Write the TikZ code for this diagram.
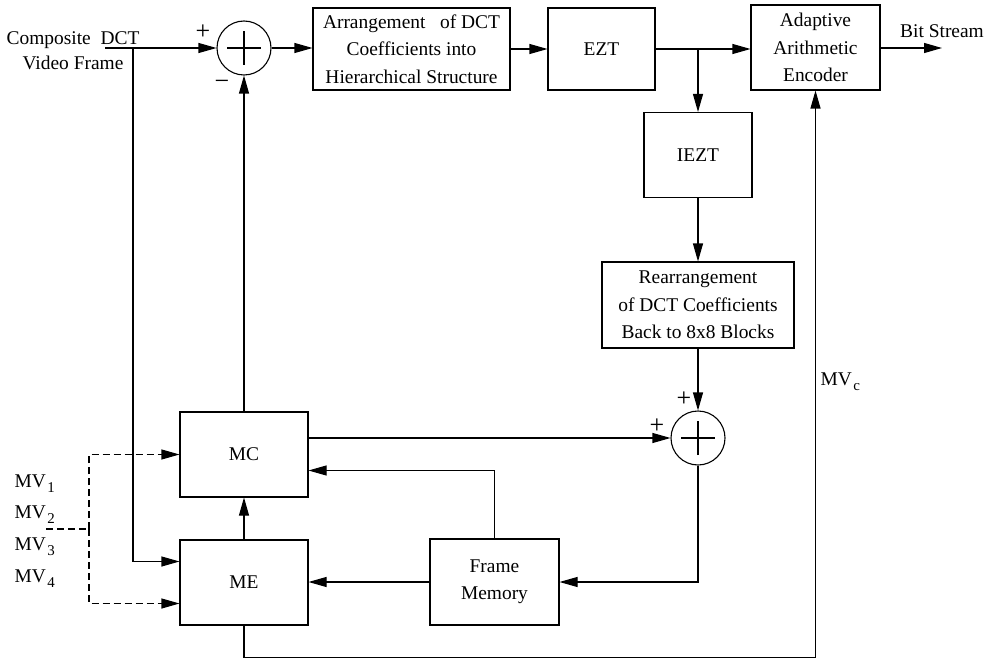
\documentclass[tikz,border=0pt]{standalone}
\usepackage{fontspec}
\setmainfont{Liberation Serif}
\usetikzlibrary{positioning,arrows.meta,calc}

\newcommand{\lowidx}[1]{\kern1.5bp\raisebox{-5bp}{\fontsize{15}{15}\selectfont #1}}

\begin{document}
\begin{tikzpicture}[x=1bp,y=-1bp,line width=1.1bp,
  >={Triangle[length=18bp,width=10bp]},
  blk/.style={draw,align=center,inner sep=0pt,font=\fontsize{19.5}{27.5}\selectfont},
  lbl/.style={inner sep=0pt,font=\fontsize{19.5}{25}\selectfont},
  sgn/.style={inner sep=0pt,font=\fontsize{26}{26}\selectfont},
  sumnode/.style={draw,circle,minimum size=54bp,inner sep=0pt,
    path picture={
      \draw ([xshift=-17bp]path picture bounding box.center) -- ([xshift=17bp]path picture bounding box.center);
      \draw ([yshift=-17bp]path picture bounding box.center) -- ([yshift=17bp]path picture bounding box.center);
    }},
  mvline/.style={dash pattern=on 7bp off 4bp}]
  \useasboundingbox (0,0) rectangle (989,660);

  % top chain
  \node[sumnode] (s1) at (244,48) {};
  \node[blk,minimum width=197bp,minimum height=82bp] (arr) at (411.5,49)
    {Arrangement\ \ \ of DCT\\Coefficients into\\Hierarchical Structure};
  \node[blk,minimum width=107bp,minimum height=82bp] (ezt) at (601.5,49) {EZT};
  \node[blk,minimum width=129bp,minimum height=85bp] (aae) at (815.5,47.5)
    {Adaptive\\Arithmetic\\Encoder};

  % reconstruction branch
  \node[blk,minimum width=108bp,minimum height=85bp] (iezt) at (698,155) {IEZT};
  \node[blk,minimum width=192bp,minimum height=86bp] (rearr) at (698,305)
    {Rearrangement\\of DCT Coefficients\\Back to 8x8 Blocks};
  \node[sumnode] (s2) at (698,438) {};

  % motion blocks
  \node[blk,minimum width=128bp,minimum height=85bp] (mc) at (244,454.5) {MC};
  \node[blk,minimum width=128bp,minimum height=85bp] (me) at (244,582.5) {ME};
  \node[blk,minimum width=129bp,minimum height=86bp] (fm) at (494.5,582) {Frame\\Memory};

  % labels
  \node[lbl,align=center] (src) at (73,51) {Composite\ \ DCT\\Video Frame};
  \node[lbl,anchor=south] (bits) at (942,38) {Bit Stream};
  \node[sgn] (p1) at (203,32) {+};
  \node[sgn] (m1) at (222,85) {−};
  \node[sgn] (p2) at (684,399) {+};
  \node[sgn] (p3) at (657,426) {+};
  \node[lbl,anchor=base west] (mvc) at (820,385) {MV\lowidx{c}};
  \foreach \k/\yy in {1/487,2/518.5,3/550,4/582} {
    \node[lbl,anchor=base west] (mv\k) at (14,\yy) {MV\lowidx{\k}};
  }

  % connectors
  \coordinate (in) at (105,48);
  \coordinate (br) at (133,48);
  \coordinate (tap) at (iezt.north |- ezt.east);
  \coordinate (out) at (942,48);
  \coordinate (mvs) at (46,529);
  \coordinate (mvj) at (89,529);

  \draw[->] (in) -- (s1);
  \draw[->] (s1) -- (s1 -| arr.west);
  \draw[->] (arr.east |- ezt.west) -- (ezt);
  \draw[->] (ezt.east) -- (ezt.east -| aae.west);
  \draw[->] (aae.east |- out) -- (out);
  \draw[->] (tap) -- (iezt);
  \draw[->] (iezt) -- (rearr);
  \draw[->] (rearr) -- (s2);
  \draw[->] (br) |- ($(me.west)+(0,-21)$);
  \draw[->] (mc) -- (s1);
  \draw[->] (me) -- (mc);
  \draw[->] (mc.east |- s2) -- (s2);
  \draw[->] (s2.south) |- (fm.east);
  \draw[->] (fm.west) -- (fm.west -| me.east);
  \draw[->] (fm.north) |- ($(mc.east)+(0,16)$);
  \draw[->] (me.south) -- ++(0,32) -| (aae.south);

  % motion vectors (dashed)
  \draw[mvline] (mvs) -- (mvj);
  \draw[mvline,->] (mvj) |- (mc.west);
  \draw[mvline,->] (mvj) |- ($(me.west)+(0,21)$);
\end{tikzpicture}
\end{document}
